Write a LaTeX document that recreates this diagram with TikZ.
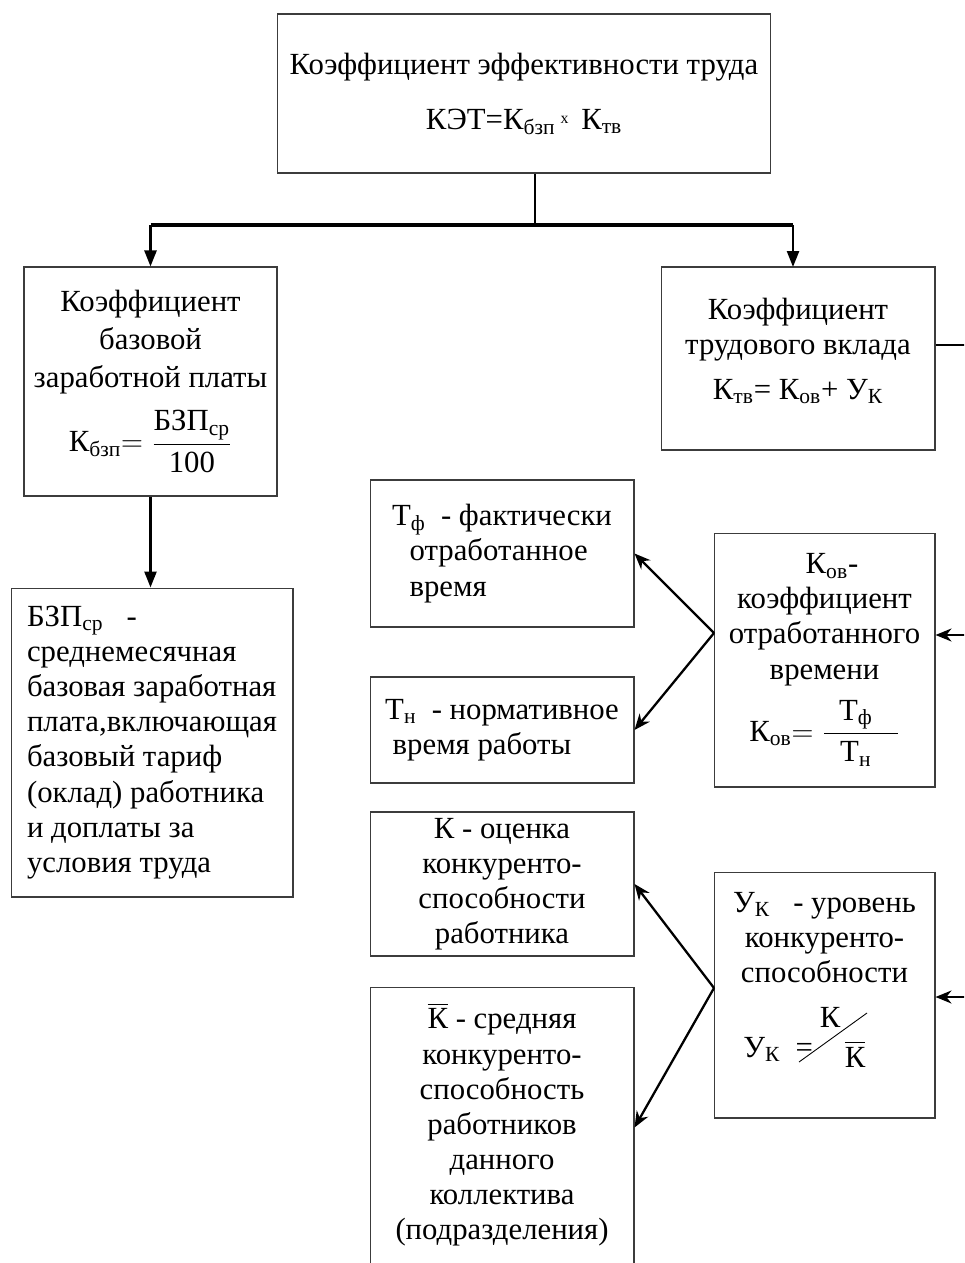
\documentclass[tikz,border=0pt]{standalone}
\usepackage{fontspec}
\setmainfont{Liberation Serif}
\usepackage{amsmath}
\usetikzlibrary{arrows.meta,calc}
\definecolor{framecolor}{RGB}{60,60,60}
\newcommand{\bodyfont}{\fontsize{17.5}{20}\selectfont}
\newcommand{\widefont}{\fontsize{17.5}{21.5}\selectfont}
\tikzset{
  box/.style    = {draw=framecolor,line width=0.6pt,inner sep=0pt,
                   align=center,font=\bodyfont},
  lbox/.style   = {box,align=left},
  wbox/.style   = {box,font=\widefont},
  conn/.style   = {line width=1.4pt},
  tarrow/.style = {-{Triangle[length=0.32cm,width=0.24cm]},line width=1.4pt},
  sarrow/.style = {-{Stealth[length=0.32cm,width=0.26cm]},line width=1.3pt},
}
\begin{document}
\begin{tikzpicture}[x=0.02cm,y=-0.02cm]
  \clip (0,0) rectangle (964,1263);
  % top level
  \node[box,minimum width=9.88cm,minimum height=3.18cm] (ket) at (524,93.5)
       {Коэффициент эффективности труда\\[0.4cm]
        КЭТ=К\textsubscript{бзп}\,\raisebox{0.4ex}{\small x}\, К\textsubscript{тв}};
  \node[wbox,minimum width=5.06cm,minimum height=4.58cm] (kbzp) at (150.5,381.5)
       {Коэффициент\\базовой\\заработной платы\\[0.3cm]
        К\textsubscript{бзп}$=\dfrac{\text{БЗП}_{\text{ср}}}{\text{100}}$};
  \node[box,minimum width=5.48cm,minimum height=3.66cm] (ktv) at (798,358.5)
       {Коэффициент\\трудового вклада\\[0.2cm]
        К\textsubscript{тв}= К\textsubscript{ов}+ У\textsubscript{К}\rule[-0.4cm]{0pt}{0.1cm}};
  \node[lbox,minimum width=5.64cm,minimum height=6.18cm] (bzp) at (152,742.5)
       {БЗП\textsubscript{ср}\ \ \ -\\среднемесячная\\базовая заработная\\
        плата,включающая\\базовый тариф\\(оклад) работника\\и доплаты за\\условия труда};
  % time
  \node[lbox,minimum width=5.28cm,minimum height=2.94cm] (tf) at (502,553.5)
       {Т\textsubscript{ф}\ \ - фактически\\\hspace*{0.35cm}отработанное\\\hspace*{0.35cm}время};
  \node[lbox,minimum width=5.28cm,minimum height=2.12cm] (tn) at (502,730)
       {Т\textsubscript{н}\ \ - нормативное\\\hspace*{0.15cm}время работы};
  \node[box,minimum width=4.42cm,minimum height=5.08cm] (kov) at (824.5,660)
       {\hspace{0.3cm}К\textsubscript{ов}-\\коэффициент\\отработанного\\времени\\[0.25cm]
        К\textsubscript{ов}$=\dfrac{\hspace{0.3cm}\text{Т}_{\text{ф}}\hspace{0.5cm}}
        {\hspace{0.3cm}\text{Т}_{\text{н}}\hspace{0.5cm}}$\rule[-0.3cm]{0pt}{0.1cm}};
  % competitiveness
  \node[box,minimum width=5.28cm,minimum height=2.88cm] (kk) at (502,884)
       {К - оценка\\конкуренто-\\способности\\работника};
  \node[box,minimum width=5.28cm,minimum height=5.62cm] (kavg) at (502,1127.5)
       {$\overline{\text{К}}$ - средняя\\конкуренто-\\способность\\работников\\
        данного\\коллектива\\(подразделения)\rule[-0.25cm]{0pt}{0.1cm}};
  \node[box,minimum width=4.42cm,minimum height=4.92cm] (uk) at (824.5,995)
       {У\textsubscript{К}\ \ \ - уровень\\конкуренто-\\способности\\
        \rule[-1.6cm]{0pt}{0.1cm}};
  \node[font=\bodyfont,anchor=base west,inner sep=0pt] (ukeq) at (743,1057)
       {У\textsubscript{К}\ \ =};
  \node[font=\bodyfont,inner sep=0pt] (uknum) at (830,1017) {К};
  \node[font=\bodyfont,inner sep=0pt] (ukden) at (855,1054) {$\overline{\text{К}}$};
  \draw[line width=0.5pt] (799,1062) -- (867,1013);
  % connectors
  \coordinate (split) at (535,225);
  \draw[conn] (ket.south -| split) -- (split);
  \draw[line width=2.2pt] (kbzp.north |- split) -- (793,225);
  \draw[tarrow] (kbzp.north |- split) -- (kbzp.north);
  \draw[tarrow] (793,225) -- (793,267);
  \draw[tarrow] (kbzp.south) -- (kbzp.south |- bzp.north);
  \coordinate (rail) at (990,345);
  \coordinate (inov) at (990,635);
  \coordinate (inuk) at (990,997);
  \draw[conn] (rail -| ktv.east) -- (rail) -- (inuk);
  \draw[sarrow] (inov) -- (inov -| kov.east);
  \draw[sarrow] (inuk) -- (inuk -| uk.east);
  \coordinate (jov) at (714,633);
  \coordinate (juk) at (714,988);
  \draw[sarrow] (jov) -- (tf.east);
  \draw[sarrow] (jov) -- (tn.east);
  \draw[sarrow] (juk) -- (kk.east);
  \draw[sarrow] (juk) -- (kavg.east);
\end{tikzpicture}
\end{document}
